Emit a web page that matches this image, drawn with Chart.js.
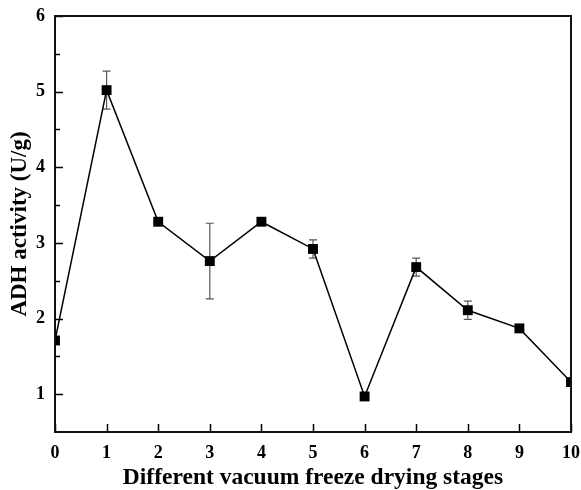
<!DOCTYPE html>
<html>
<head>
<meta charset="utf-8">
<script src="https://cdn.jsdelivr.net/npm/chart.js@4/dist/chart.umd.min.js"></script>
<style>
html,body{margin:0;padding:0;background:#fff;}
#wrap{width:581px;height:490px;}
</style>
</head>
<body>
<div id="wrap"><canvas id="c" width="581" height="490"></canvas></div>
<script>
const stages = [0,1,2,3,4,5,6,7,8,9,10];
const adhActivity = [1.71,5.02,3.28,2.76,3.28,2.92,0.97,2.68,2.11,1.87,1.16];
const adhError = [0,0.25,0,0.5,0,0.12,0,0.12,0.12,0,0];
const yTicks = [1,2,3,4,5,6];
const yMinorTicks = [1.5,2.5,3.5,4.5,5.5];
const xTicks = [0,1,2,3,4,5,6,7,8,9,10];

const FONT = "'Liberation Serif','Times New Roman',serif";

const framePlugin = {
  id:'frame',
  beforeDatasetsDraw(chart){
    const ctx = chart.ctx, x = chart.scales.x, y = chart.scales.y;
    ctx.save();
    ctx.strokeStyle = '#555';
    ctx.lineWidth = 1.2;
    adhActivity.forEach((v,i)=>{
      const e = adhError[i];
      if(!e) return;
      const px = x.getPixelForValue(stages[i]);
      const top = y.getPixelForValue(v+e), bot = y.getPixelForValue(v-e);
      ctx.beginPath();
      ctx.moveTo(px,top); ctx.lineTo(px,bot);
      ctx.moveTo(px-4,top); ctx.lineTo(px+4,top);
      ctx.moveTo(px-4,bot); ctx.lineTo(px+4,bot);
      ctx.stroke();
    });
    ctx.restore();
  },
  afterDraw(chart){
    const ctx = chart.ctx, a = chart.chartArea, x = chart.scales.x, y = chart.scales.y;
    ctx.save();
    ctx.strokeStyle = '#000';
    ctx.lineWidth = 1.5;
    ctx.beginPath();
    yTicks.forEach(v=>{ const py = Math.round(y.getPixelForValue(v))+0.5; ctx.moveTo(a.left, py); ctx.lineTo(a.left+8, py); });
    yMinorTicks.forEach(v=>{ const py = Math.round(y.getPixelForValue(v))+0.5; ctx.moveTo(a.left, py); ctx.lineTo(a.left+5, py); });
    xTicks.forEach(v=>{ const px = Math.round(x.getPixelForValue(v))+0.5; ctx.moveTo(px, a.bottom); ctx.lineTo(px, a.bottom-8); });
    ctx.stroke();
    ctx.lineWidth = 2;
    ctx.strokeStyle = '#111';
    ctx.strokeRect(a.left, a.top, a.right-a.left, a.bottom-a.top);
    ctx.restore();
  }
};

new Chart(document.getElementById('c'), {
  type:'line',
  data:{
    datasets:[{
      data: stages.map((s,i)=>({x:s,y:adhActivity[i]})),
      borderColor:'#000',
      borderWidth:1.5,
      backgroundColor:'#000',
      pointStyle:'rect',
      pointRadius:7,
      pointHoverRadius:7,
      pointBorderWidth:0,
      tension:0
    }]
  },
  options:{
    responsive:false,
    animation:false,
    devicePixelRatio:1,
    layout:{autoPadding:false, padding:{top:16,right:10,left:0,bottom:0}},
    plugins:{legend:{display:false},tooltip:{enabled:false}},
    scales:{
      x:{
        type:'linear', min:0, max:10,
        afterBuildTicks(s){ s.ticks = xTicks.map(v=>({value:v})); },
        afterFit(s){ s.height = 58; },
        grid:{display:false, drawTicks:true, tickLength:11, tickColor:'rgba(0,0,0,0)'},
        border:{display:false},
        ticks:{color:'#000', padding:0, font:{family:FONT, size:18, weight:'bold'}},
        title:{display:true, text:'Different vacuum freeze drying stages', color:'#000',
               font:{family:FONT, size:23.5, weight:'bold', lineHeight:1}, padding:{top:0,bottom:0}}
      },
      y:{
        type:'linear', min:0.5, max:6,
        afterBuildTicks(s){ s.ticks = yTicks.map(v=>({value:v})); },
        afterFit(s){ s.width = 55; },
        grid:{display:false, drawTicks:true, tickLength:10, tickColor:'rgba(0,0,0,0)'},
        border:{display:false},
        ticks:{color:'#000', padding:0, font:{family:FONT, size:18, weight:'bold'}},
        title:{display:true, text:'ADH activity (U/g)', color:'#000',
               font:{family:FONT, size:23, weight:'bold', lineHeight:1}, padding:{top:9,bottom:0}}
      }
    }
  },
  plugins:[framePlugin]
});
</script>
</body>
</html>
